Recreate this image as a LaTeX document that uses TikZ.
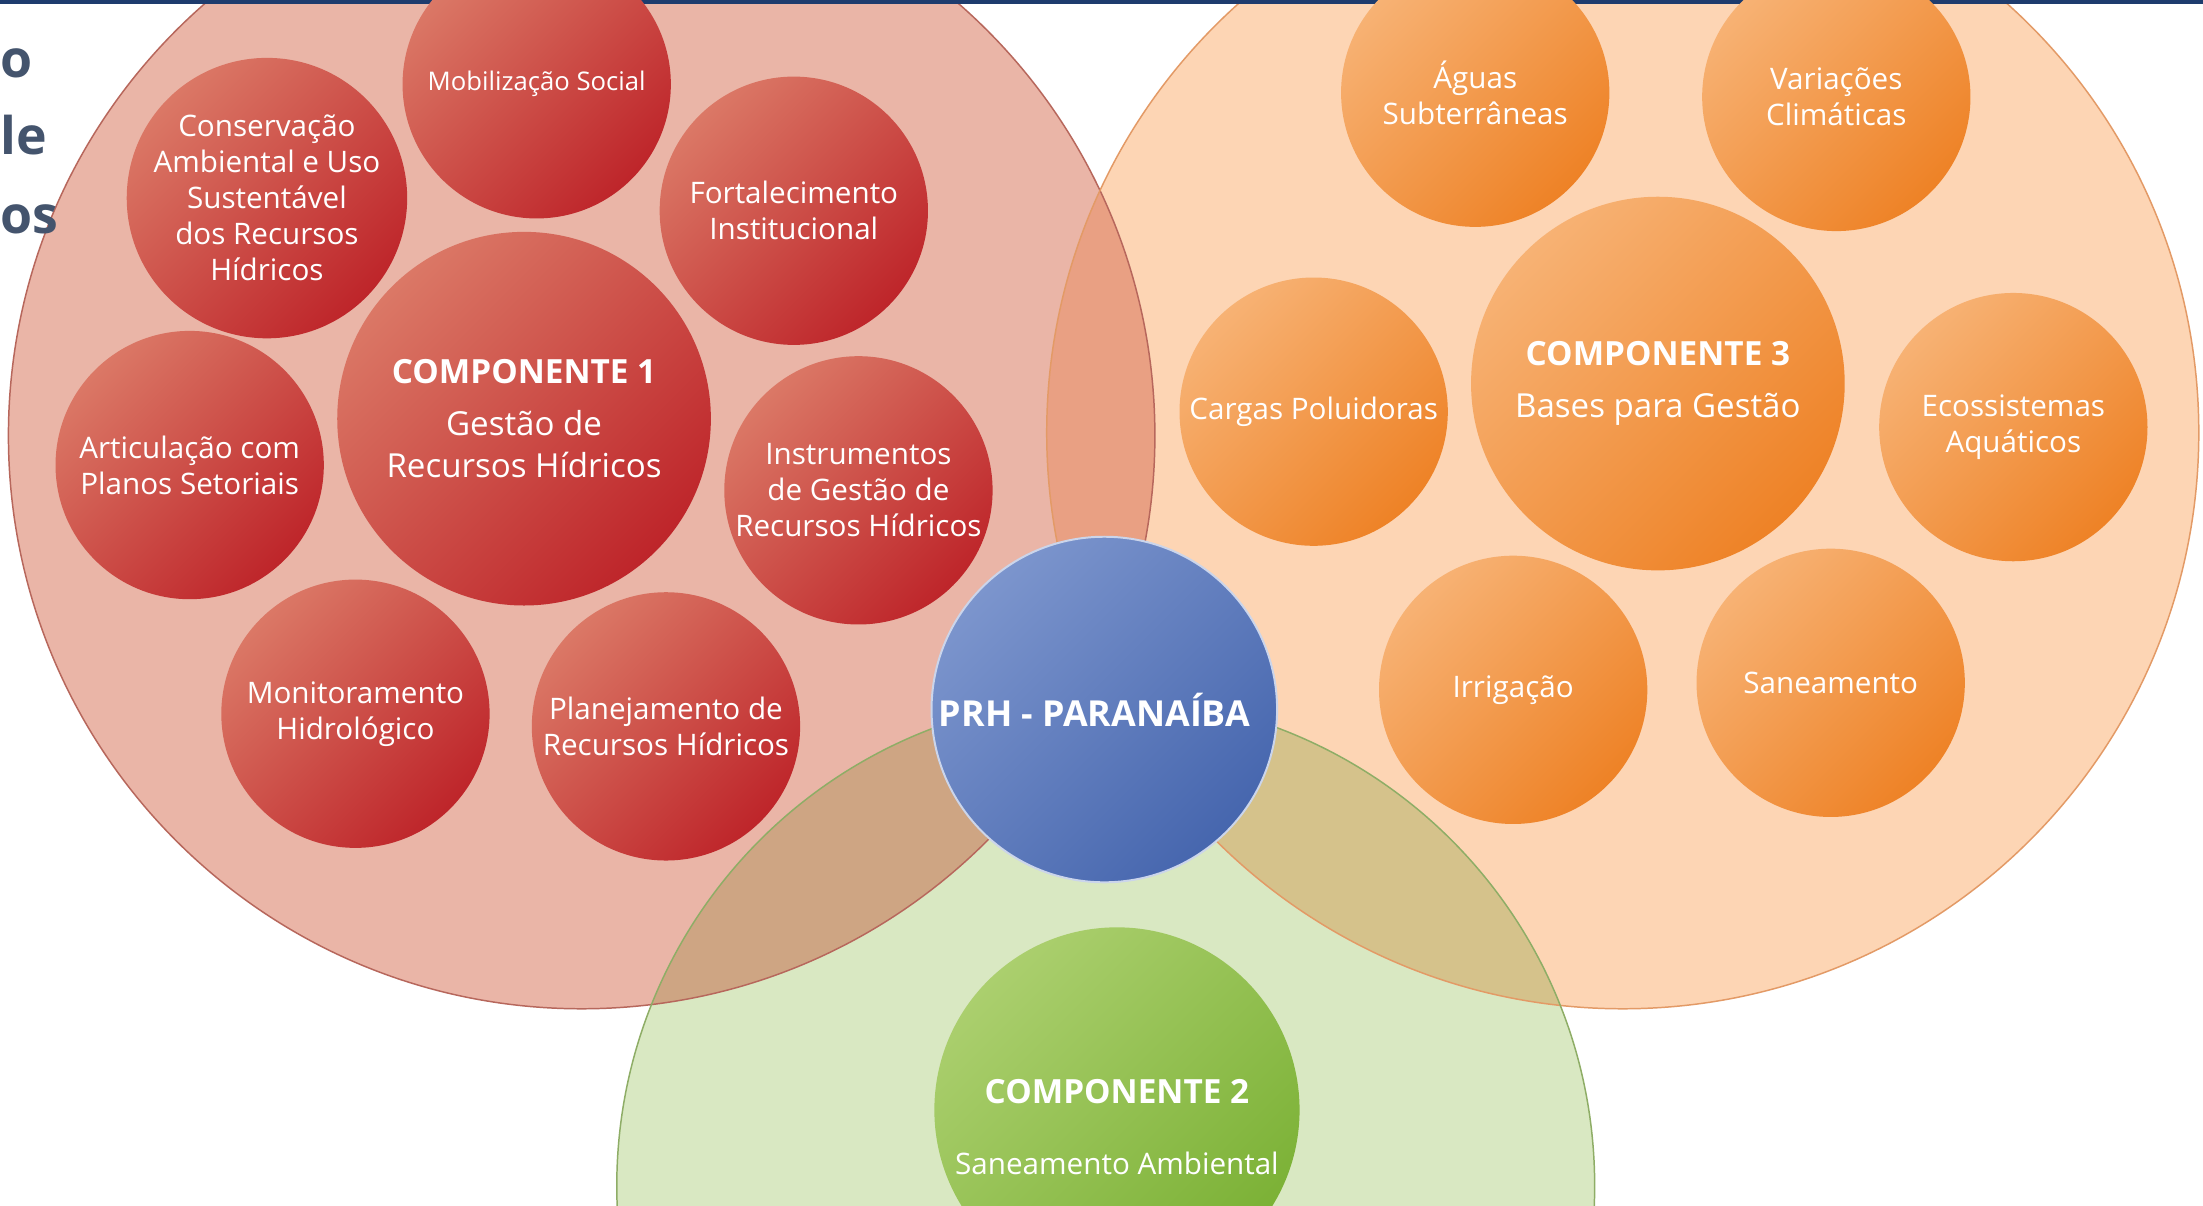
\documentclass[tikz,border=0pt]{standalone}
\usepackage{fontspec}
\setmainfont{Open Sans}
\usetikzlibrary{positioning}

\definecolor{redzone}{HTML}{EAB5A7}
\definecolor{redline}{HTML}{B7675C}
\definecolor{orangezone}{HTML}{FDD5B4}
\definecolor{orangeline}{HTML}{E39A66}
\definecolor{greenzone}{HTML}{D9E8C2}
\definecolor{greenline}{HTML}{8EAD66}
\definecolor{redorange}{HTML}{E9A083}
\definecolor{redgreen}{HTML}{CEA583}
\definecolor{orangegreen}{HTML}{D5C28B}
\definecolor{redlite}{HTML}{DB7866}
\definecolor{reddark}{HTML}{BE252A}
\definecolor{orangelite}{HTML}{F7B274}
\definecolor{orangedark}{HTML}{EE8226}
\definecolor{greenlite}{HTML}{ABCF6E}
\definecolor{greendark}{HTML}{7BB135}
\definecolor{bluelite}{HTML}{7C95CD}
\definecolor{bluedark}{HTML}{4666AE}
\definecolor{navyband}{HTML}{1E3C6E}
\definecolor{titlegray}{HTML}{44546D}

\newcommand{\comphead}[1]{{\fontsize{13.5}{15}\selectfont\bfseries #1}}

\begin{document}
\begin{tikzpicture}[x=0.02cm, y=-0.02cm,
    zone/.style={circle, inner sep=0pt, minimum size=#1},
    bubble/.style={circle, inner sep=0pt, minimum size=3.82cm, align=center, text=white,
      font=\fontsize{12}{14.6}\selectfont},
    bigbubble/.style={bubble, minimum size=5.32cm, font=\fontsize{13.4}{17}\selectfont},
    redbub/.style={top color=redlite, bottom color=reddark, shading angle=45},
    orangebub/.style={top color=orangelite, bottom color=orangedark, shading angle=45},
    greenbub/.style={top color=greenlite, bottom color=greendark, shading angle=45},
    titlebit/.style={anchor=base west, inner sep=0pt, text=titlegray, font=\fontsize{21}{21}\selectfont\bfseries}]

\useasboundingbox (0,0) rectangle (1568,858);
\fill[white] (0,0) rectangle (1568,858);

% the three component areas
\node (zone1) [zone=16.32cm, fill=redzone] at (414,310) {};
\node (zone3) [zone=16.4cm, fill=orangezone] at (1155,308) {};
\begin{scope}
  \clip (zone1.center) circle [radius=408];
  \fill[redorange] (zone3.center) circle [radius=410];
\end{scope}
\node (zone2) [zone=13.92cm, fill=greenzone] at (787,844) {};
\begin{scope}
  \clip (zone2.center) circle [radius=348];
  \fill[redgreen] (zone1.center) circle [radius=408];
  \fill[orangegreen] (zone3.center) circle [radius=410];
\end{scope}
\draw[redline, line width=0.6pt] (zone1.center) circle [radius=408];
\draw[orangeline, line width=0.6pt] (zone3.center) circle [radius=410];
\draw[greenline, line width=0.6pt] (zone2.center) circle [radius=348];

\fill[navyband] (0,0) rectangle (1568,3);
\node (t1) [titlebit] at (0,55) {o};
\node (t2) [titlebit] at (0,110) {le};
\node (t3) [titlebit] at (0,166) {os};

% componente 1
\node (comp1) [bigbubble, redbub] at (373,298)
  {\comphead{COMPONENTE 1}\\[4pt] Gestão de\\ Recursos Hídricos};
\node (mobil) [bubble, redbub, font=\fontsize{10.4}{12}\selectfont] at (382,60) {Mobilização Social};
\node (conserv) [bubble, redbub] at (190,141)
  {Conservação\\ Ambiental e Uso\\ Sustentável\\ dos Recursos\\ Hídricos};
\node (fortal) [bubble, redbub] at (565,150) {Fortalecimento\\ Institucional};
\node (artic) [bubble, redbub] at (135,331) {Articulação com\\ Planos Setoriais};
\node (instr) [bubble, redbub] at (611,349) {Instrumentos\\ de Gestão de\\ Recursos Hídricos};
\node (monit) [bubble, redbub] at (253,508) {Monitoramento\\ Hidrológico};
\node (planej) [bubble, redbub] at (474,517) {Planejamento de\\ Recursos Hídricos};

% componente 3
\node (comp3) [bigbubble, orangebub] at (1180,273)
  {\comphead{COMPONENTE 3}\\[4pt] Bases para Gestão};
\node (aguas) [bubble, orangebub] at (1050,66) {Águas\\ Subterrâneas};
\node (clima) [bubble, orangebub] at (1307,69) {Variações\\ Climáticas};
\node (cargas) [bubble, orangebub] at (935,293) {Cargas Poluidoras};
\node (ecoss) [bubble, orangebub] at (1433,304) {Ecossistemas\\ Aquáticos};
\node (irrig) [bubble, orangebub] at (1077,491) {Irrigação};
\node (saneam) [bubble, orangebub] at (1303,486) {Saneamento};

% componente 2
\node (comp2) [bubble, greenbub, minimum size=5.2cm] at (795,790) {};
\node (comp2txt) [align=center, text=white, font=\fontsize{12}{15}\selectfont]
  at ([yshift=-7pt]comp2.center) {\comphead{COMPONENTE 2}\\[14pt] Saneamento Ambiental};

% plano
\node (prh) [circle, inner sep=0pt, minimum size=4.92cm, draw=white!60!bluelite, line width=0.8pt,
  top color=bluelite, bottom color=bluedark, shading angle=45] at (786,505) {};
\node (prhtxt) [text=white, font=\fontsize{14.5}{15}\selectfont\bfseries]
  at ([xshift=-4pt]prh.center) {PRH - PARANAÍBA};
\end{tikzpicture}
\end{document}
